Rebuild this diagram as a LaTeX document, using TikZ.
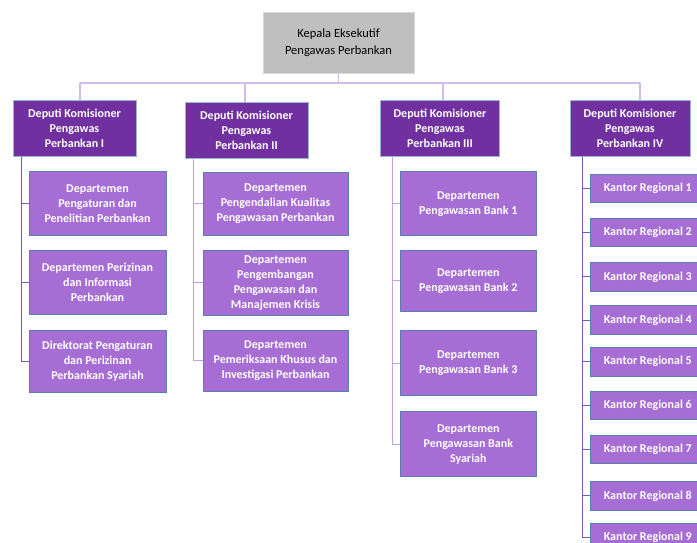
\documentclass[tikz,border=0pt]{standalone}
\usepackage{fontspec}
\setmainfont{Carlito}
\definecolor{topgray}{HTML}{BFBFBF}
\definecolor{depfill}{HTML}{7030A0}
\definecolor{depdraw}{HTML}{9DB3D2}
\definecolor{subfill}{HTML}{A66DD4}
\definecolor{subdraw}{HTML}{5A7FAE}
\definecolor{busline}{HTML}{D5BCE8}
\definecolor{darkline}{HTML}{8055B5}
\definecolor{lightline}{HTML}{C3A3DE}
\begin{document}
\begin{tikzpicture}[x=1pt,y=-1pt,
  every node/.style={inner sep=0pt,align=center,font=\fontsize{12}{15}\selectfont\bfseries},
  topbox/.style={draw=topgray!80!black!40!white,fill=topgray,text=black,font=\fontsize{12.5}{17}\selectfont,line width=0.8pt},
  depbox/.style={draw=depdraw,fill=depfill,text=white,line width=0.8pt},
  subbox/.style={draw=subdraw,fill=subfill,text=white,line width=0.8pt},
  bus/.style={draw=busline,line width=1.2pt},
  dline/.style={draw=darkline,line width=1pt},
  lline/.style={draw=lightline,line width=1pt}]
\useasboundingbox[fill=white] (0,0) rectangle (697,542);

% top
\node[topbox,minimum width=151pt,minimum height=61pt] (top) at (338.5,42.5) {Kepala Eksekutif\\Pengawas Perbankan};

% deputies
\node[depbox,minimum width=123pt,minimum height=56pt] (d1) at (74.5,128.5) {Deputi Komisioner\\Pengawas\\Perbankan I};
\node[depbox,minimum width=123pt,minimum height=56pt] (d2) at (246.5,130) {Deputi Komisioner\\Pengawas\\Perbankan II};
\node[depbox,minimum width=118.5pt,minimum height=56pt] (d3) at (440,128) {Deputi Komisioner\\Pengawas\\Perbankan III};
\node[depbox,minimum width=120pt,minimum height=56pt] (d4) at (630,128.5) {Deputi Komisioner\\Pengawas\\Perbankan IV};

% bus
\coordinate (b1) at (80,83);
\coordinate (b2) at (245,83);
\coordinate (b3) at (443,83);
\coordinate (b4) at (640,83);
\draw[bus] (b1) -- (b4);
\draw[bus] (top.south) -- (top.south |- b1);
\draw[bus] (b1) -- (b1 |- d1.north);
\draw[bus] (b2) -- (b2 |- d2.north);
\draw[bus] (b3) -- (b3 |- d3.north);
\draw[bus] (b4) -- (b4 |- d4.north);

% column 1
\node[subbox,minimum width=137pt,minimum height=64.7pt] (a1) at (97.5,203.3) {Departemen\\Pengaturan dan\\Penelitian Perbankan};
\node[subbox,minimum width=137pt,minimum height=63.3pt] (a2) at (97.5,282.4) {Departemen Perizinan\\dan Informasi\\Perbankan};
\node[subbox,minimum width=137pt,minimum height=62pt] (a3) at (97.5,361) {Direktorat Pengaturan\\dan Perizinan\\Perbankan Syariah};
\coordinate (l1) at (21.5,0);
\draw[dline] (l1 |- d1.south) |- (a3.west);
\draw[dline] (l1 |- a1.west) -- (a1.west);
\draw[dline] (l1 |- a2.west) -- (a2.west);

% column 2
\node[subbox,minimum width=145pt,minimum height=62.3pt] (c1) at (275.5,203.8) {Departemen\\Pengendalian Kualitas\\Pengawasan Perbankan};
\node[subbox,minimum width=145pt,minimum height=64.3pt] (c2) at (275.5,282.8) {Departemen\\Pengembangan\\Pengawasan dan\\Manajemen Krisis};
\node[subbox,minimum width=145pt,minimum height=61.7pt] (c3) at (275.5,360.8) {Departemen\\Pemeriksaan Khusus dan\\Investigasi Perbankan};
\coordinate (l2) at (193.5,0);
\draw[lline] (l2 |- d2.south) |- (c3.west);
\draw[lline] (l2 |- c1.west) -- (c1.west);
\draw[lline] (l2 |- c2.west) -- (c2.west);

% column 3
\node[subbox,minimum width=135.3pt,minimum height=64pt] (e1) at (468.3,203.7) {Departemen\\Pengawasan Bank 1};
\node[subbox,minimum width=135.3pt,minimum height=61.7pt] (e2) at (468.3,280.8) {Departemen\\Pengawasan Bank 2};
\node[subbox,minimum width=135.3pt,minimum height=65pt] (e3) at (468.3,363.2) {Departemen\\Pengawasan Bank 3};
\node[subbox,minimum width=135.3pt,minimum height=65pt] (e4) at (468.3,444.2) {Departemen\\Pengawasan Bank\\Syariah};
\coordinate (l3) at (392,0);
\draw[lline] (l3 |- d3.south) |- (e4.west);
\draw[lline] (l3 |- e1.west) -- (e1.west);
\draw[lline] (l3 |- e2.west) -- (e2.west);
\draw[lline] (l3 |- e3.west) -- (e3.west);

% column 4
\foreach \i/\y in {1/188.3,2/232.5,3/276.8,4/320,5/361.7,6/405.5,7/449.5,8/495.8,9/537.7}{
  \node[subbox,minimum width=114.3pt,minimum height=28.6pt] (k\i) at (647.8,\y) {Kantor Regional \i};
}
\coordinate (l4) at (582.7,0);
\draw[dline] (l4 |- d4.south) |- (k9.west);
\foreach \i in {1,...,8}{
  \draw[dline] (l4 |- k\i.west) -- (k\i.west);
}
\end{tikzpicture}
\end{document}
